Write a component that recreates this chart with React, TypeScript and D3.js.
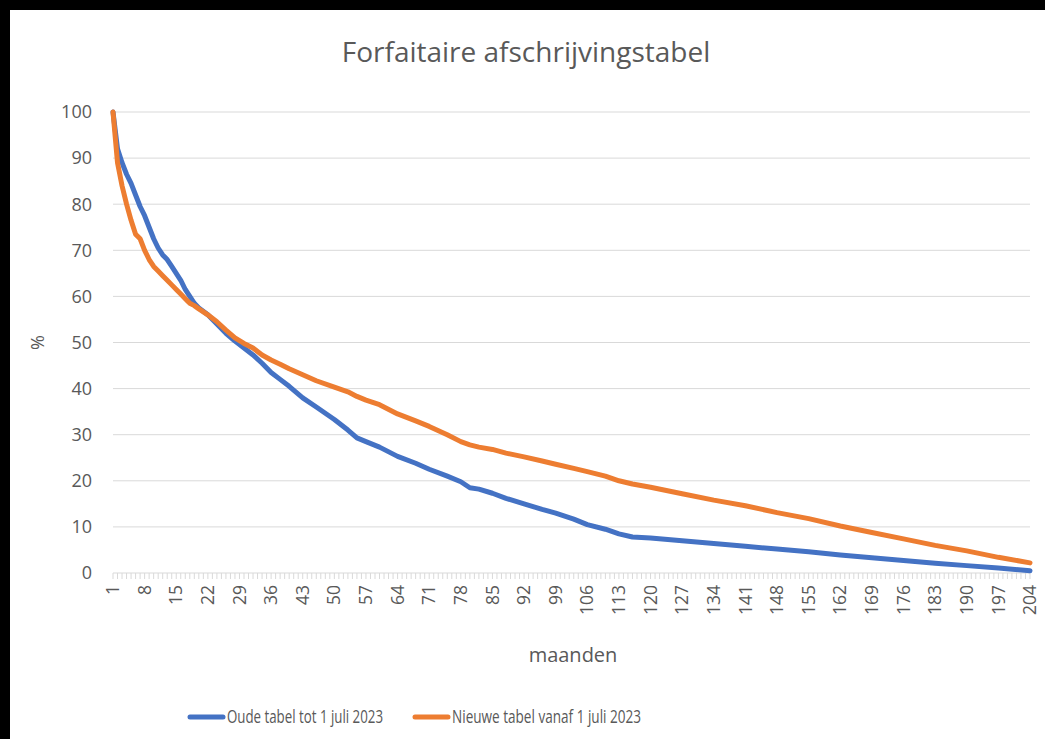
import { useEffect, useRef } from 'react'
import * as d3 from 'd3'

const sampleMonths = [
  1, 2, 3, 4, 5, 6, 7, 8, 9, 10, 11, 12, 13, 14, 15, 16, 17, 18, 19, 20, 22, 24, 26, 28, 30, 32, 34, 36, 38, 40,
  43, 46, 50, 53, 55, 57, 60, 64, 68, 71, 75, 78, 80, 82, 85, 88, 92, 96, 99, 103, 106, 110, 113, 116, 120,
  127, 134, 141, 148, 155, 162, 169, 176, 183, 190, 197, 204,
]

const oudeValues = [
  100, 92, 89, 86.5, 84.5, 82, 79.5, 77.5, 75, 72.5, 70.5, 69, 68, 66.5, 65, 63.5, 61.5, 60, 58.5, 57.5, 56, 54, 52,
  50.3, 48.8, 47.3, 45.5, 43.5, 42, 40.5, 38, 36, 33.3, 31, 29.3, 28.5, 27.3, 25.3, 23.8, 22.5, 21, 19.8, 18.5,
  18.2, 17.3, 16.2, 15, 13.8, 13, 11.7, 10.5, 9.5, 8.5, 7.8, 7.6, 7, 6.4, 5.8, 5.2, 4.6, 3.9, 3.3, 2.7, 2.1, 1.6,
  1.1, 0.5,
]

const nieuweValues = [
  100, 89, 84, 80, 76.5, 73.5, 72.5, 70, 68, 66.5, 65.5, 64.5, 63.5, 62.5, 61.5, 60.5, 59.5, 58.5, 58, 57.3, 56,
  54.5, 52.7, 51, 49.8, 48.8, 47.3, 46.2, 45.3, 44.3, 43, 41.7, 40.3, 39.3, 38.3, 37.5, 36.5, 34.5, 33, 31.8, 30,
  28.5, 27.8, 27.3, 26.8, 26, 25.2, 24.3, 23.6, 22.7, 22, 21, 20, 19.3, 18.6, 17.2, 15.8, 14.6, 13.1, 11.8, 10.2,
  8.8, 7.4, 6, 4.8, 3.4, 2.2,
]

const seriesNames = ['Oude tabel tot 1 juli 2023', 'Nieuwe tabel vanaf 1 juli 2023']
const seriesColors = ['#4472C4', '#ED7D31']
const yTicks = [0, 10, 20, 30, 40, 50, 60, 70, 80, 90, 100]
const firstMonth = 1
const lastMonth = 204
const labelStep = 7

export default function App() {
  const ref = useRef<SVGSVGElement | null>(null)
  const svgWidth = 1045
  const svgHeight = 739

  useEffect(() => {
    const svg = d3.select(ref.current)
    svg.selectAll('*').remove()

    const font = "'Open Sans', 'Noto Sans', sans-serif"
    const textColor = '#595959'

    // black frame + white chart area
    svg.append('rect').attr('width', svgWidth).attr('height', svgHeight).attr('fill', '#000')
    svg.append('rect').attr('x', 10).attr('y', 10).attr('width', svgWidth - 10).attr('height', svgHeight - 10).attr('fill', '#fff')

    const months = d3.range(firstMonth, lastMonth + 1)
    const xScale = d3.scalePoint<number>().domain(months).range([113, 1030])
    const yScale = d3.scaleLinear().domain([0, 100]).range([573, 112])

    svg
      .append('text')
      .attr('x', 526)
      .attr('y', 62)
      .attr('text-anchor', 'middle')
      .attr('font-family', font)
      .attr('font-size', 28)
      .attr('fill', textColor)
      .text('Forfaitaire afschrijvingstabel')

    // gridlines + y labels
    const yAxis = svg.append('g')
    yAxis
      .selectAll('line')
      .data(yTicks.filter((t) => t > 0))
      .enter()
      .append('line')
      .attr('x1', 113)
      .attr('x2', 1030)
      .attr('y1', (d) => yScale(d))
      .attr('y2', (d) => yScale(d))
      .attr('stroke', '#D9D9D9')
      .attr('stroke-width', 1)
    yAxis
      .selectAll('text')
      .data(yTicks)
      .enter()
      .append('text')
      .attr('x', 92)
      .attr('y', (d) => yScale(d))
      .attr('dy', '0.35em')
      .attr('text-anchor', 'end')
      .attr('font-family', font)
      .attr('font-size', 18)
      .attr('fill', textColor)
      .text((d) => d)

    svg
      .append('text')
      .attr('transform', `translate(44, ${yScale(50)}) rotate(-90)`)
      .attr('text-anchor', 'middle')
      .attr('font-family', font)
      .attr('font-size', 18)
      .attr('fill', textColor)
      .text('%')

    // x axis (category axis with a tick per month)
    const xAxis = svg.append('g')
    xAxis
      .append('line')
      .attr('x1', 113)
      .attr('x2', 1030)
      .attr('y1', yScale(0))
      .attr('y2', yScale(0))
      .attr('stroke', '#D9D9D9')
    xAxis
      .selectAll('.tick')
      .data(months)
      .enter()
      .append('line')
      .attr('class', 'tick')
      .attr('x1', (d) => xScale(d)!)
      .attr('x2', (d) => xScale(d)!)
      .attr('y1', yScale(0))
      .attr('y2', yScale(0) + 6)
      .attr('stroke', '#D9D9D9')
    xAxis
      .selectAll('.lbl')
      .data(months.filter((m) => (m - firstMonth) % labelStep === 0))
      .enter()
      .append('text')
      .attr('class', 'lbl')
      .attr('transform', (d) => `translate(${xScale(d)!}, 585) rotate(-90)`)
      .attr('dy', '0.35em')
      .attr('text-anchor', 'end')
      .attr('font-family', font)
      .attr('font-size', 17.5)
      .attr('fill', textColor)
      .text((d) => d)

    svg
      .append('text')
      .attr('x', 573)
      .attr('y', 662)
      .attr('text-anchor', 'middle')
      .attr('font-family', font)
      .attr('font-size', 20)
      .attr('fill', textColor)
      .text('maanden')

    // lines
    const line = d3
      .line<number>()
      .x((_, i) => xScale(sampleMonths[i])!)
      .y((d) => yScale(d))
    ;[oudeValues, nieuweValues].forEach((vals, i) => {
      svg
        .append('path')
        .datum(vals)
        .attr('d', line)
        .attr('fill', 'none')
        .attr('stroke', seriesColors[i])
        .attr('stroke-width', 5)
        .attr('stroke-linejoin', 'round')
        .attr('stroke-linecap', 'round')
    })

    // legend
    const legendX = [190, 415]
    const legendW = [156, 189]
    seriesNames.forEach((name, i) => {
      const g = svg.append('g').attr('transform', `translate(${legendX[i]}, 717)`)
      g.append('line').attr('x1', 0).attr('x2', 33).attr('stroke', seriesColors[i]).attr('stroke-width', 5).attr('stroke-linecap', 'round')
      g.append('text')
        .attr('x', 37)
        .attr('dy', '0.35em')
        .attr('font-family', font)
        .attr('font-size', 18)
        .attr('fill', textColor)
        .attr('textLength', legendW[i])
        .attr('lengthAdjust', 'spacingAndGlyphs')
        .text(name)
    })
  }, [])

  return (
    <svg
      width={svgWidth}
      height={svgHeight}
      ref={ref}
      style={{ position: 'absolute', left: 0, top: 0, display: 'block' }}
    />
  )
}
